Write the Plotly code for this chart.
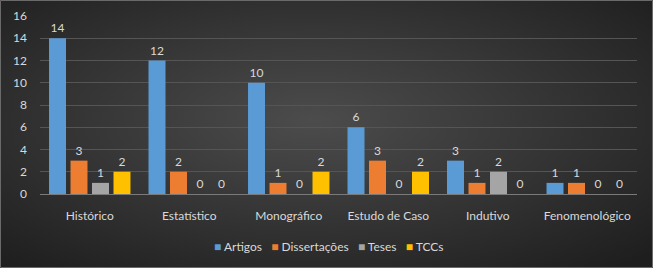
import base64
import plotly.graph_objects as go

categories = ["Histórico", "Estatístico", "Monográfico", "Estudo de Caso", "Indutivo", "Fenomenológico"]
artigos = [14, 12, 10, 6, 3, 1]
dissertacoes = [3, 2, 1, 3, 1, 1]
teses = [1, 0, 0, 0, 2, 0]
tccs = [2, 0, 2, 2, 0, 0]
y_ticks = [0, 2, 4, 6, 8, 10, 12, 14, 16]

series = [
    ("Artigos", artigos, "#5B9BD5"),
    ("Dissertações", dissertacoes, "#ED7D31"),
    ("Teses", teses, "#A5A5A5"),
    ("TCCs", tccs, "#FFC000"),
]

W, H = 653, 268
ml, mr, mt, mb = 40, 16, 16, 74
pw, ph = W - ml - mr, H - mt - mb
FONT = "Lato, Open Sans, sans-serif"

svg = f'''<svg xmlns="http://www.w3.org/2000/svg" width="{W}" height="{H}" preserveAspectRatio="none">
<defs><radialGradient id="g" cx="48%" cy="45%" r="72%">
<stop offset="0%" stop-color="#4c4c4c"/><stop offset="100%" stop-color="#1e1e1e"/></radialGradient></defs>
<rect width="{W}" height="{H}" fill="url(#g)"/></svg>'''
src = "data:image/svg+xml;base64," + base64.b64encode(svg.encode()).decode()

fig = go.Figure()
for name, vals, col in series:
    fig.add_trace(go.Bar(
        x=categories, y=vals, name=name, marker=dict(color=col, line=dict(width=0)),
        text=vals, textposition="outside", cliponaxis=False,
        textfont=dict(color="#d9d9d9", size=12, family=FONT),
    ))

# legend drawn as annotation (compact, like the reference)
legend_parts = []
for name, vals, col in series:
    legend_parts.append(f"<span style='color:{col}'>■</span> {name}")
legend_text = "   ".join(legend_parts)

fig.update_layout(
    width=W, height=H,
    margin=dict(l=ml, r=mr, t=mt, b=mb, autoexpand=False),
    paper_bgcolor="#2a2a2a", plot_bgcolor="rgba(0,0,0,0)",
    font=dict(family=FONT, color="#d9d9d9", size=12),
    barmode="group", bargap=0.136, bargroupgap=0.21,
    showlegend=False,
    xaxis=dict(showgrid=False, ticks="", showline=False, zeroline=False,
               tickfont=dict(size=12, color="#d9d9d9"), ticklabelstandoff=13),
    yaxis=dict(range=[0, 16], tickvals=y_ticks, showgrid=True, gridcolor="#555555",
               gridwidth=1, zeroline=True, zerolinecolor="#7a7a7a", zerolinewidth=1,
               tickfont=dict(size=12, color="#d9d9d9"), ticklabelstandoff=12),
    annotations=[dict(text=legend_text, xref="paper", yref="paper",
                      x=(329 - ml) / pw, y=-(246 - mt - ph) / ph,
                      xanchor="center", yanchor="middle", showarrow=False,
                      font=dict(size=12, color="#d9d9d9", family=FONT))],
    shapes=[dict(type="rect", xref="paper", yref="paper",
                 x0=-(ml - 0.5) / pw, x1=1 + (mr - 0.5) / pw,
                 y0=-(mb - 0.5) / ph, y1=1 + (mt - 0.5) / ph,
                 line=dict(color="#6a6a6a", width=1), layer="above")],
    images=[dict(source=src, xref="paper", yref="paper",
                 x=-ml / pw, y=1 + mt / ph, sizex=W / pw, sizey=H / ph,
                 sizing="stretch", layer="below", xanchor="left", yanchor="top")],
)
fig.write_html("out.html", config={"displayModeBar": False},
               post_script="document.body.style.margin='0';")
